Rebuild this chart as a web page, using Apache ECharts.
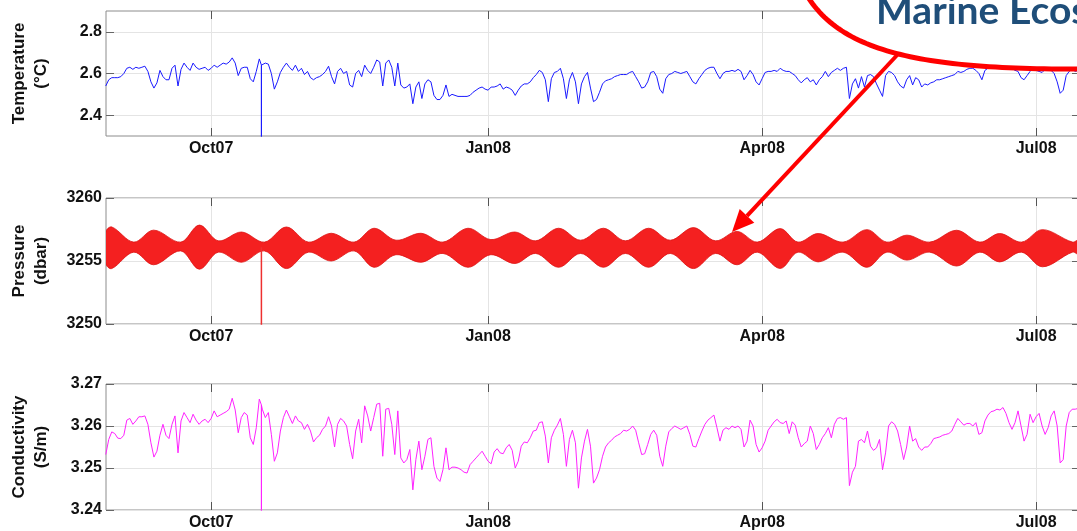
<!DOCTYPE html>
<html><head><meta charset="utf-8">
<script src="https://cdn.jsdelivr.net/npm/echarts@6/dist/echarts.min.js"></script>
<style>html,body{margin:0;padding:0;overflow:hidden;background:#fff}#c{width:1080px;height:531px}</style>
</head><body><div id="c"></div><script>
// ---- data (daily samples starting at seriesStart) ----
const seriesStart = '2007-08-27';
const temperature = [
2.54,2.57,2.58,2.58,2.58,2.585,2.60,2.625,2.63,2.62,
2.63,2.625,2.63,2.635,2.61,2.56,2.53,2.555,2.615,2.585,
2.57,2.57,2.625,2.64,2.54,2.62,2.65,2.63,2.615,2.65,
2.63,2.62,2.625,2.63,2.615,2.625,2.64,2.63,2.64,2.65,
2.645,2.655,2.675,2.65,2.59,2.625,2.63,2.63,2.575,2.56,
2.61,2.67,2.64,2.65,2.645,2.60,2.525,2.56,2.605,2.63,
2.65,2.63,2.615,2.64,2.61,2.625,2.595,2.61,2.58,2.57,
2.58,2.585,2.595,2.61,2.635,2.585,2.55,2.61,2.625,2.60,
2.61,2.545,2.535,2.60,2.615,2.585,2.64,2.615,2.60,2.63,
2.665,2.655,2.54,2.65,2.665,2.63,2.54,2.65,2.545,2.53,
2.535,2.55,2.455,2.535,2.56,2.48,2.55,2.57,2.56,2.495,
2.475,2.475,2.495,2.545,2.49,2.50,2.495,2.49,2.49,2.49,
2.49,2.495,2.51,2.52,2.53,2.535,2.525,2.52,2.535,2.535,
2.54,2.55,2.525,2.535,2.53,2.52,2.495,2.52,2.54,2.55,
2.55,2.56,2.58,2.595,2.615,2.605,2.57,2.465,2.575,2.605,
2.61,2.625,2.575,2.48,2.57,2.605,2.56,2.455,2.55,2.585,
2.605,2.53,2.465,2.475,2.51,2.55,2.565,2.57,2.575,2.585,
2.59,2.595,2.595,2.595,2.605,2.61,2.585,2.56,2.53,2.535,
2.56,2.605,2.61,2.585,2.525,2.505,2.575,2.595,2.60,2.61,
2.605,2.60,2.605,2.61,2.585,2.56,2.55,2.575,2.595,2.615,
2.625,2.63,2.63,2.60,2.575,2.60,2.61,2.61,2.615,2.61,
2.62,2.61,2.57,2.59,2.615,2.595,2.56,2.545,2.575,2.605,
2.61,2.61,2.615,2.61,2.625,2.615,2.61,2.61,2.60,2.59,
2.57,2.555,2.57,2.58,2.56,2.57,2.545,2.57,2.585,2.61,
2.585,2.605,2.615,2.625,2.615,2.625,2.63,2.48,2.55,2.575,
2.53,2.585,2.535,2.59,2.595,2.585,2.55,2.52,2.49,2.59,
2.61,2.605,2.59,2.56,2.54,2.53,2.57,2.59,2.545,2.58,
2.57,2.535,2.55,2.545,2.555,2.56,2.57,2.57,2.575,2.58,
2.585,2.59,2.595,2.61,2.605,2.61,2.62,2.625,2.625,2.615,
2.60,2.57,2.615,2.625,2.63,2.635,2.63,2.635,2.63,2.63,
2.63,2.625,2.615,2.61,2.58,2.57,2.59,2.61,2.625,2.615,
2.61,2.605,2.62,2.625,2.615,2.60,2.56,2.505,2.52,2.59,
2.61,2.62,2.61,2.615];
const conductivity = [
3.2532,3.2568,3.2586,3.2582,3.2571,3.257,3.2578,3.2614,3.2618,3.2604,
3.2612,3.2622,3.2622,3.2624,3.2604,3.256,3.2526,3.254,3.2578,3.2604,
3.2578,3.257,3.2604,3.2624,3.2536,3.2612,3.2632,3.262,3.2608,3.2628,
3.2614,3.2604,3.2612,3.2616,3.2608,3.2618,3.2636,3.2622,3.2626,3.263,
3.2634,3.264,3.2666,3.2638,3.2584,3.262,3.2632,3.2626,3.2572,3.2556,
3.2596,3.2664,3.264,3.262,3.2632,3.258,3.2516,3.2536,3.2588,3.262,
3.2638,3.2622,3.2606,3.2624,3.2612,3.2608,3.2592,3.2604,3.2588,3.2562,
3.2572,3.2578,3.2592,3.26,3.2622,3.26,3.255,3.2604,3.2618,3.2612,
3.26,3.2556,3.2522,3.2588,3.2616,3.256,3.2648,3.2624,3.2588,3.262,
3.2652,3.2654,3.2528,3.264,3.2642,3.2604,3.2532,3.2636,3.2524,3.2512,
3.252,3.2544,3.2448,3.252,3.2564,3.2496,3.2528,3.2568,3.2572,3.2504,
3.2476,3.2468,3.2496,3.2548,3.2496,3.2502,3.2502,3.25,3.2496,3.249,
3.2488,3.2508,3.2516,3.2524,3.2532,3.254,3.2528,3.2516,3.251,3.2538,
3.2546,3.2536,3.2534,3.2548,3.2556,3.2542,3.25,3.2516,3.2552,3.2562,
3.256,3.2572,3.2588,3.259,3.2608,3.261,3.2576,3.2512,3.2572,3.259,
3.2602,3.2618,3.258,3.2504,3.2568,3.259,3.256,3.2452,3.2524,3.2564,
3.2592,3.2552,3.2464,3.2476,3.2496,3.2528,3.255,3.256,3.2566,3.2574,
3.2578,3.2582,3.259,3.2588,3.2592,3.26,3.259,3.256,3.2532,3.2534,
3.2556,3.258,3.259,3.2578,3.2528,3.2504,3.2552,3.2586,3.2594,3.26,
3.2596,3.2592,3.2596,3.26,3.258,3.2552,3.255,3.257,3.2588,3.2604,
3.2614,3.262,3.2626,3.2596,3.2564,3.259,3.2596,3.2592,3.26,3.2596,
3.26,3.2592,3.255,3.2564,3.2614,3.26,3.2556,3.2538,3.2548,3.2564,
3.259,3.26,3.261,3.2616,3.2608,3.2606,3.2612,3.2582,3.261,3.2602,
3.2572,3.255,3.2558,3.2564,3.26,3.2582,3.2544,3.2556,3.2572,3.2582,
3.2596,3.2572,3.2604,3.2618,3.262,3.2616,3.262,3.2458,3.249,3.2504,
3.2564,3.2568,3.256,3.2588,3.2552,3.2542,3.2548,3.2568,3.2496,3.2536,
3.26,3.261,3.2604,3.2588,3.2556,3.252,3.255,3.26,3.2564,3.257,
3.255,3.2542,3.255,3.255,3.2558,3.257,3.2572,3.2574,3.2578,3.258,
3.2582,3.2588,3.2604,3.2618,3.261,3.2602,3.2606,3.2606,3.26,3.2608,
3.258,3.2584,3.2612,3.2626,3.2634,3.2636,3.264,3.2638,3.2644,3.263,
3.2608,3.2592,3.2608,3.2636,3.26,3.2564,3.258,3.2628,3.2608,3.2622,
3.263,3.26,3.258,3.2596,3.2624,3.2636,3.26,3.2512,3.252,3.26,
3.2632,3.264,3.264,3.2642];
// pressure: upper / lower envelope of the tidal signal, read at spring & neap points
const pressureDays = [0,2.0,9.3,15.9,24.9,31.1,37.4,45.1,52.7,60.0,67.3,74.9,82.5,89.1,96.4,104.7,112.0,120.3,127.9,135.9,142.8,150.4,157.7,165.3,172.6,180.3,187.5,195.2,202.5,209.7,216.4,224.0,229.9,236.6,244.9,252.8,259.4,266.1,273.7,282.6,290.3,296.9,304.2,311.1,321.1,323.4];
const pressureHigh = [3257.3,3257.7,3256.5,3257.45,3256.5,3257.85,3256.6,3257.3,3256.5,3257.7,3256.5,3257.2,3256.5,3257.6,3256.65,3257.2,3256.5,3257.6,3256.7,3257.3,3256.6,3257.6,3256.65,3257.6,3256.6,3257.6,3256.65,3257.65,3256.6,3257.35,3256.5,3257.57,3256.5,3257.18,3256.5,3257.49,3256.5,3257.05,3256.5,3257.44,3256.5,3257.18,3256.5,3257.49,3256.5,3256.7];
const pressureLow  = [3254.8,3254.4,3255.7,3254.7,3255.8,3254.35,3255.7,3254.9,3255.8,3254.4,3255.7,3255.0,3255.8,3254.5,3255.5,3254.9,3255.6,3254.5,3255.5,3254.8,3255.6,3254.5,3255.6,3254.5,3255.6,3254.5,3255.6,3254.4,3255.6,3254.7,3255.7,3254.41,3255.7,3254.93,3255.7,3254.5,3255.7,3255.07,3255.7,3254.6,3255.7,3254.93,3255.7,3254.54,3255.7,3255.5];
// instrument dropout (all three sensors)
const spikeDay = 51.7;
const temperatureSpike = [2.64, 2.0];
const pressureSpike = [3256.1, 3240];
const conductivitySpike = [3.265, 3.2];
// axes
const xTickDates = ['2007-10-01','2008-01-01','2008-04-01','2008-07-01'];
const xTickLabels = ['Oct07','Jan08','Apr08','Jul08'];
const temperatureTicks = [2.4, 2.6, 2.8];
const pressureTicks = [3250, 3255, 3260];
const conductivityTicks = [3.24, 3.25, 3.26, 3.27];
const panelNames = ['Temperature\n(°C)', 'Pressure\n(dbar)', 'Conductivity\n(S/m)'];
const calloutText = 'Marine Ecos';

// ---- build ----
const DAY = 86400000;
const t0 = Date.parse(seriesStart + 'T00:00:00Z');
const tAt = d => t0 + d * DAY;
const xMin = Date.parse('2007-08-27T02:00:00Z');
const xMax = Date.parse('2008-07-15T14:00:00Z');
const xTicks = xTickDates.map(s => Date.parse(s + 'T00:00:00Z'));
const FONT = 'Liberation Sans, Arial, Helvetica, sans-serif';

function withSpike(values, spike) {
  const out = [];
  values.forEach((v, i) => {
    out.push([tAt(i), v]);
    if (i === Math.floor(spikeDay)) {
      const ts = tAt(spikeDay);
      out.push([ts, spike[0]], [ts, spike[1]], [ts, spike[0]]);
    }
  });
  return out;
}

const gridTops = [11, 198, 384];
const gridHeights = [125, 126, 126];
const yCfg = [
  {min: 2.3, max: 2.9, ticks: temperatureTicks, dec: 1},
  {min: 3250, max: 3260, ticks: pressureTicks, dec: 0},
  {min: 3.24, max: 3.27, ticks: conductivityTicks, dec: 2}
];

const grids = [], xAxes = [], yAxes = [];
for (let g = 0; g < 3; g++) {
  grids.push({left: 104, right: 0, top: gridTops[g], height: gridHeights[g], show: true, borderColor: '#8c8c8c', borderWidth: 1, containLabel: false});
}
for (let g = 0; g < 3; g++) {
  xAxes.push({
    type: 'value', gridIndex: g, min: xMin, max: xMax,
    axisLine: {show: false},
    axisTick: {show: true, inside: true, length: 8, customValues: xTicks, lineStyle: {color: '#555', width: 1}},
    axisLabel: {customValues: xTicks, margin: 5, fontFamily: FONT, fontWeight: 'bold', fontSize: 16, color: '#111',
      formatter: v => { let b = 0; xTicks.forEach((t, i) => { if (Math.abs(t - v) < Math.abs(xTicks[b] - v)) b = i; }); return xTickLabels[b]; }},
    splitLine: {show: true, lineStyle: {color: '#e4e4e4', width: 1}}
  });
}
for (let g = 0; g < 3; g++) {
  xAxes.push({
    type: 'value', gridIndex: g, position: 'top', min: xMin, max: xMax,
    axisLine: {show: false}, axisLabel: {show: false}, splitLine: {show: false},
    axisTick: {show: true, inside: true, length: 8, customValues: xTicks, lineStyle: {color: '#555', width: 1}}
  });
}
for (let g = 0; g < 3; g++) {
  const c = yCfg[g];
  yAxes.push({
    type: 'value', gridIndex: g, min: c.min, max: c.max,
    axisLine: {show: false},
    axisTick: {show: true, inside: true, length: 8, customValues: c.ticks, lineStyle: {color: '#666', width: 1}},
    axisLabel: {customValues: c.ticks, margin: 4, fontFamily: FONT, fontWeight: 'bold', fontSize: 16, color: '#111',
      formatter: v => Number(v).toFixed(c.dec)},
    splitLine: {show: true, lineStyle: {color: '#e4e4e4', width: 1}},
    name: panelNames[g], nameLocation: 'middle', nameRotate: 90, nameGap: 54,
    nameTextStyle: {fontFamily: FONT, fontWeight: 'bold', fontSize: 17, lineHeight: 22, color: '#111'}
  });
}
for (let g = 0; g < 3; g++) {
  const c = yCfg[g];
  yAxes.push({
    type: 'value', gridIndex: g, position: 'right', min: c.min, max: c.max,
    axisLine: {show: false}, axisLabel: {show: false}, splitLine: {show: false},
    axisTick: {show: true, inside: true, length: 8, customValues: c.ticks, lineStyle: {color: '#666', width: 1}}
  });
}

const pSpikeData = [[tAt(spikeDay), pressureSpike[0]], [tAt(spikeDay), pressureSpike[1]]];

const series = [
  {type: 'line', xAxisIndex: 0, yAxisIndex: 0, data: withSpike(temperature, temperatureSpike), symbol: 'none',
   lineStyle: {color: '#1a1aff', width: 1}},
  {type: 'custom', xAxisIndex: 1, yAxisIndex: 1, clip: true, silent: true,
   data: [[tAt(pressureDays[0]), pressureHigh[0]]],
   renderItem: (params, api) => {
     const up = pressureDays.map((d, i) => api.coord([tAt(d), pressureHigh[i]]));
     const lo = pressureDays.map((d, i) => api.coord([tAt(d), pressureLow[i]])).reverse();
     return {type: 'polygon', shape: {points: up.concat(lo), smooth: 0.35},
             style: {fill: '#f42020', stroke: '#dd1010', lineWidth: 0.8}};
   }},
  {type: 'line', xAxisIndex: 1, yAxisIndex: 1, data: pSpikeData, symbol: 'none',
   lineStyle: {color: '#ee3030', width: 1.5}},
  {type: 'line', xAxisIndex: 2, yAxisIndex: 2, data: withSpike(conductivity, conductivitySpike), symbol: 'none',
   lineStyle: {color: '#ff22ff', width: 1}}
];

// callout (ellipse edge drawn as a bezier-shaped polygon, arrow, heading)
const P0 = [805, -8], P1 = [840, 55], P2 = [930, 70], P3 = [1090, 69];
const edge = [];
for (let k = 0; k <= 60; k++) {
  const t = k / 60, s = 1 - t;
  edge.push([s*s*s*P0[0] + 3*s*s*t*P1[0] + 3*s*t*t*P2[0] + t*t*t*P3[0],
             s*s*s*P0[1] + 3*s*s*t*P1[1] + 3*s*t*t*P2[1] + t*t*t*P3[1]]);
}
const calloutPoly = edge.concat([[1095, 69], [1095, -12], [805, -12]]);
const tip = [732, 232], from = [900, 52];
const ux = (tip[0] - from[0]), uy = (tip[1] - from[1]);
const L = Math.hypot(ux, uy), nx = ux / L, ny = uy / L;
const headLen = 22, headHalf = 10;
const base = [tip[0] - nx * headLen, tip[1] - ny * headLen];
const graphic = [
  {type: 'line', z: 99, shape: {x1: from[0], y1: from[1], x2: base[0], y2: base[1]}, style: {stroke: '#ff0000', lineWidth: 4}},
  {type: 'polygon', z: 99, shape: {points: [tip, [base[0] - ny * headHalf, base[1] + nx * headHalf], [base[0] + ny * headHalf, base[1] - nx * headHalf]]}, style: {fill: '#ff0000'}},
  {type: 'polygon', z: 100, shape: {points: calloutPoly}, style: {fill: '#ffffff', stroke: '#ff0000', lineWidth: 5}},
  {type: 'text', z: 101, x: 876, y: 11.5, style: {text: calloutText, font: 'bold 39px Lato', fill: '#1f4e79', align: 'left', verticalAlign: 'middle'}}
];

const chart = echarts.init(document.getElementById('c'), null, {renderer: 'canvas'});
chart.setOption({animation: false, backgroundColor: '#ffffff', grid: grids, xAxis: xAxes, yAxis: yAxes, series, graphic});
</script></body></html>
